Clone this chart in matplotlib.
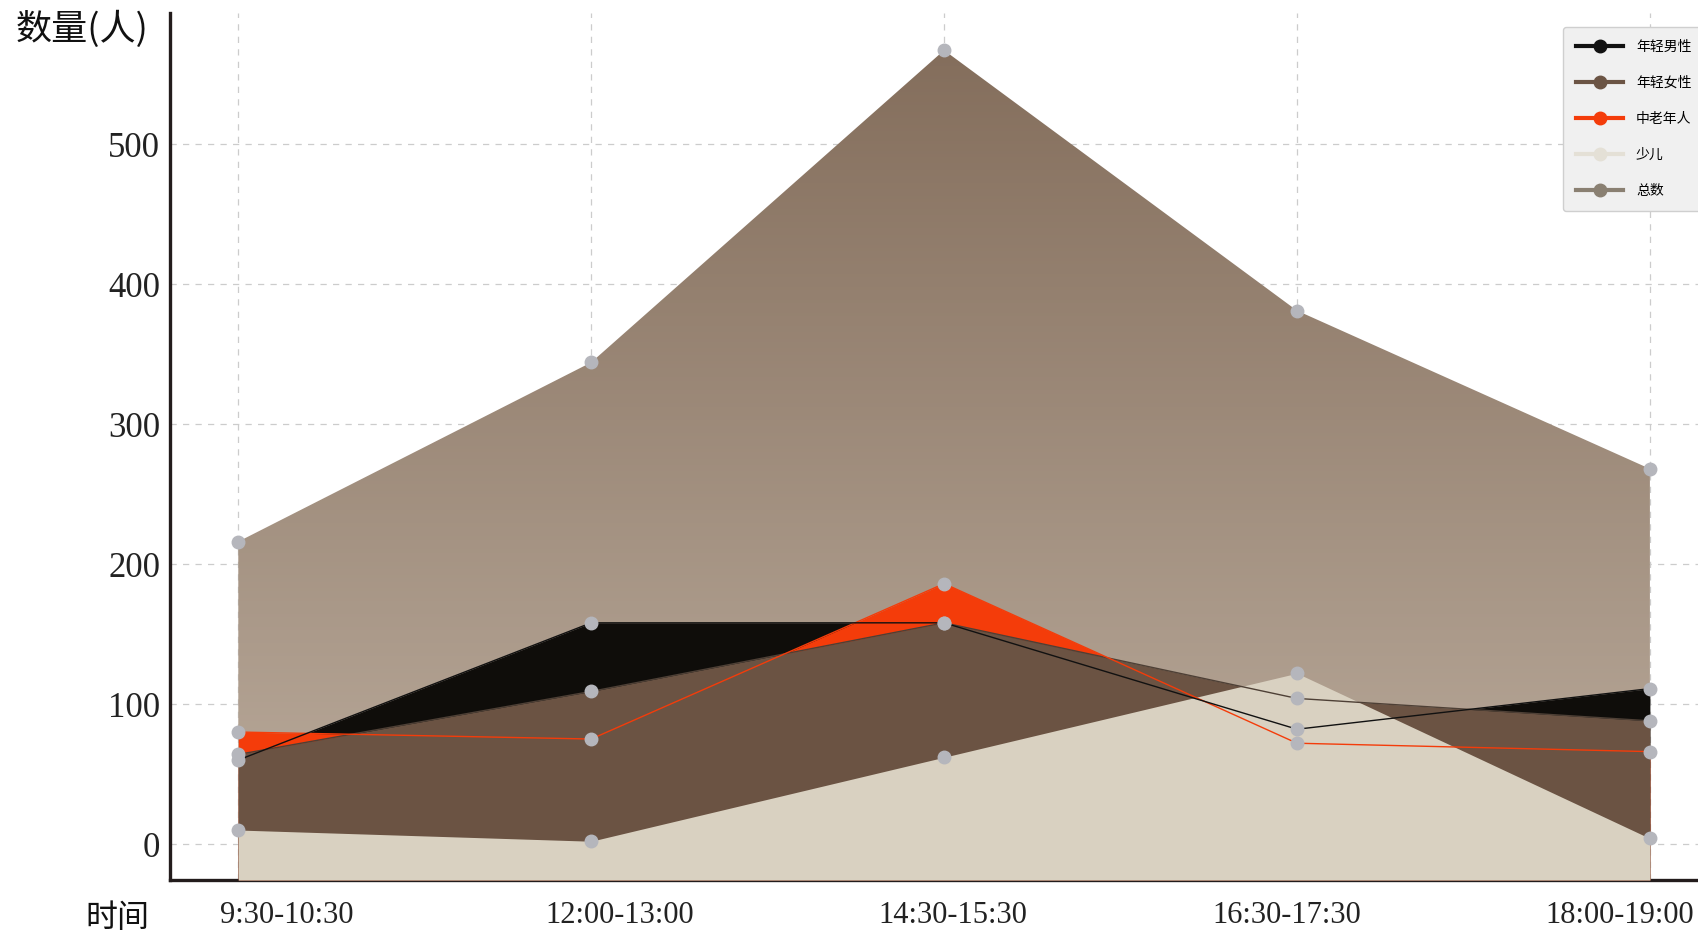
import numpy as np
import matplotlib
matplotlib.use("Agg")
import matplotlib.pyplot as plt
from matplotlib.colors import LinearSegmentedColormap
from matplotlib.lines import Line2D
from matplotlib.patches import PathPatch

# data
time_slots = ["9:30-10:30", "12:00-13:00", "14:30-15:30", "16:30-17:30", "18:00-19:00"]
young_male = [60, 158, 158, 82, 111]
young_female = [64, 109, 158, 104, 88]
elderly = [80, 75, 186, 72, 66]
children = [10, 2, 62, 122, 4]
total = [216, 344, 567, 381, 268]

series_names = ["年轻男性", "年轻女性", "中老年人", "少儿", "总数"]

c_male = "#0f0d0a"
c_female = "#6b5343"
c_elder = "#f43c0a"
c_child = "#d9d1c1"
c_total_top = "#846e5c"
c_total_bot = "#bcad9e"
c_marker = "#b5b6bc"

cjk = ["Noto Sans CJK SC", "DejaVu Sans"]
serif = "Liberation Serif"

W, H = 1698, 936
fig = plt.figure(figsize=(W / 100, H / 100), dpi=100)
ax = fig.add_axes([170 / W, 1 - 880 / H, (W - 170) / W, (880 - 13) / H])

x = np.arange(len(time_slots))
ybot, ytop = -25.7, 593.6

# total area with vertical gradient
fb = ax.fill_between(x, total, ybot, facecolor="none", edgecolor="none", zorder=2)
path = fb.get_paths()[0]
patch = PathPatch(path, transform=ax.transData, facecolor="none", edgecolor="none")
ax.add_patch(patch)
cmap = LinearSegmentedColormap.from_list("tot", [c_total_bot, c_total_top])
grad = np.linspace(0, 1, 256).reshape(-1, 1)
img = ax.imshow(grad, cmap=cmap, origin="lower", aspect="auto",
                extent=[x[0], x[-1], ybot, max(total)], zorder=2)
img.set_clip_path(patch)

# overlapping areas (back to front)
ax.fill_between(x, young_male, ybot, color=c_male, lw=0, zorder=3)
ax.fill_between(x, elderly, ybot, color=c_elder, lw=0, zorder=4)
ax.fill_between(x, young_female, ybot, color=c_female, lw=0, zorder=5)
ax.fill_between(x, children, ybot, color=c_child, lw=0, zorder=6)

# thin lines on top
ax.plot(x, young_female, color="#4e4036", lw=1, zorder=7)
ax.plot(x, elderly, color=c_elder, lw=1, zorder=7)
ax.plot(x, young_male, color="#111111", lw=1, zorder=7)

# grey markers
for s in [total, young_male, young_female, elderly, children]:
    ax.plot(x, s, ls="none", marker="o", ms=9, color=c_marker, mec=c_marker, zorder=8)

ax.set_xlim(-0.1935, (W - 238.3) / 352.9)
ax.set_ylim(ybot, ytop)

# category gridlines on minor ticks, labels spread a little narrower than categories
ax.set_xticks(x, minor=True)
label_pos = 0.138 + x * 0.944
ax.set_xticks(label_pos)
ax.set_xticklabels(time_slots, fontfamily=serif, fontsize=22)
ax.set_yticks([0, 100, 200, 300, 400, 500])
ax.set_yticklabels(["0", "100", "200", "300", "400", "500"], fontfamily=serif, fontsize=25)
ax.tick_params(axis="x", which="both", length=0, pad=15, colors="#222222")
ax.tick_params(axis="y", length=0, pad=7, colors="#222222")

ax.set_axisbelow(True)
ax.grid(False)
ax.grid(True, axis="x", which="minor", ls=(0, (5, 5)), color="#cccccc", lw=0.9)
ax.grid(True, axis="y", which="major", ls=(0, (5, 5)), color="#cccccc", lw=0.9)

for s in ["top", "right"]:
    ax.spines[s].set_visible(False)
ax.spines["left"].set_linewidth(2.4)
ax.spines["bottom"].set_linewidth(2.4)
ax.spines["left"].set_color("#231c1c")
ax.spines["bottom"].set_color("#231c1c")

fig.text(16 / W, 1 - 29 / H, "数量(人)", fontfamily=cjk, fontsize=26, ha="left", va="center", color="#111111")
fig.text(117 / W, 1 - 918 / H, "时间", fontfamily=cjk, fontsize=23, ha="center", va="center", color="#111111")

handles = [
    Line2D([], [], color="#111111", lw=3, marker="o", ms=9),
    Line2D([], [], color="#6b5444", lw=3, marker="o", ms=9),
    Line2D([], [], color=c_elder, lw=3, marker="o", ms=9),
    Line2D([], [], color="#e4e0d6", lw=3, marker="o", ms=9),
    Line2D([], [], color="#8a8072", lw=3, marker="o", ms=9),
]
leg = fig.legend(handles, series_names, loc="upper left",
                 bbox_to_anchor=(1563 / W, 1 - 27 / H), borderaxespad=0,
                 prop={"family": cjk, "size": 10}, handlelength=3.4,
                 handletextpad=0.9, labelspacing=1.58, borderpad=0.95,
                 frameon=True, fancybox=True)
leg.get_frame().set_facecolor("#f0f0f0")
leg.get_frame().set_edgecolor("#cfcfcf")
leg.get_frame().set_alpha(1)

fig.savefig("out.png", dpi=100)
